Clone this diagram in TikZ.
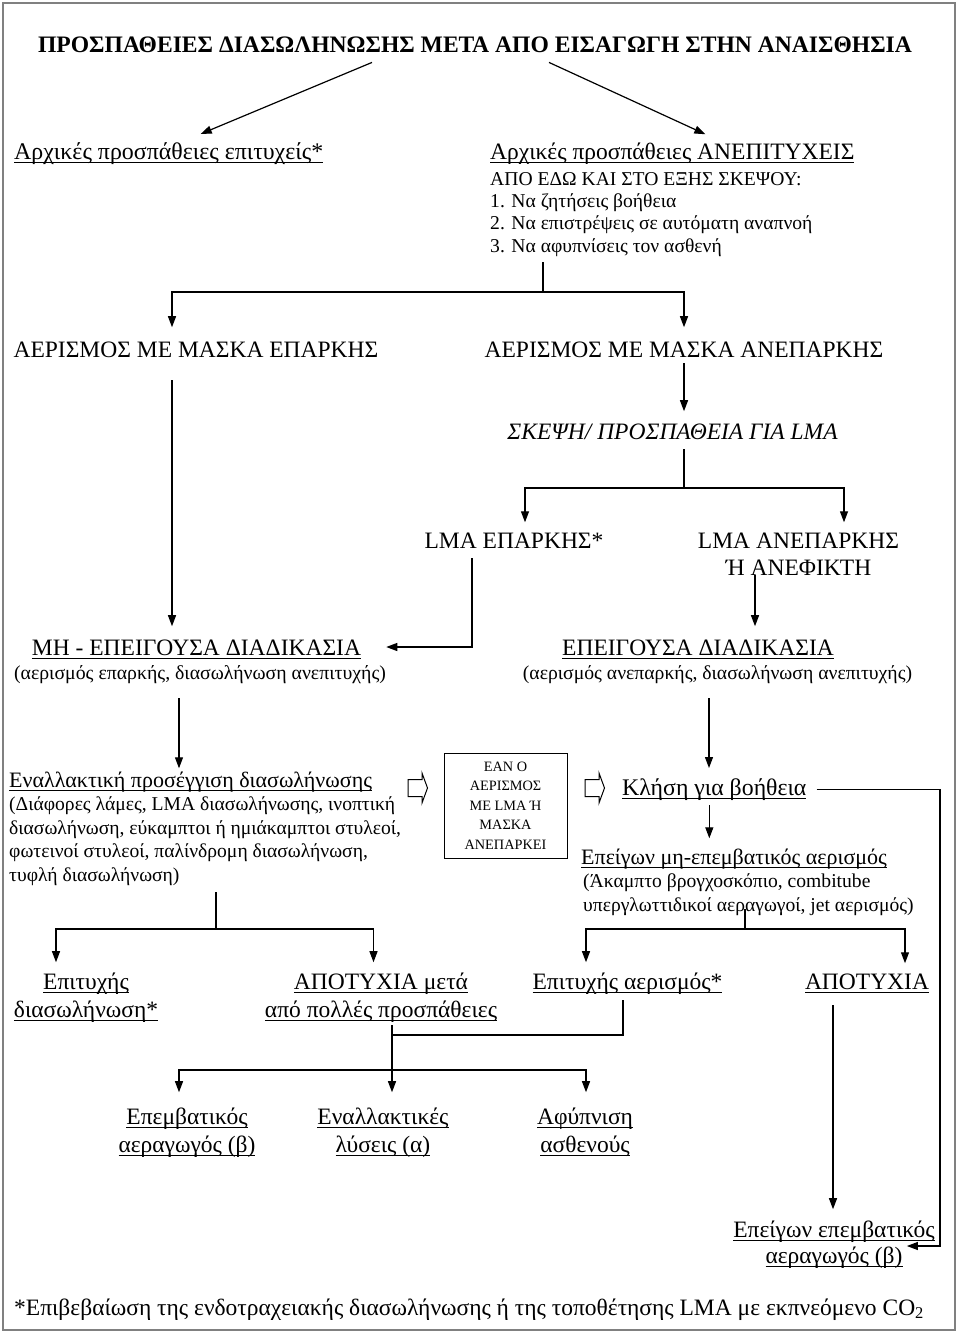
\documentclass[tikz,border=0pt]{standalone}
\usepackage{fontspec}
\setmainfont{Liberation Serif}
\usetikzlibrary{arrows.meta, positioning}

% underline at a fixed depth, crossing the descenders
\newcommand{\wul}[1]{\leavevmode\setbox0=\hbox{#1}\rlap{\rule[-0.18em]{\wd0}{0.055em}}\box0}

\begin{document}
\begin{tikzpicture}[x=1pt, y=-1pt, >={Triangle[length=11pt,width=8pt]},
    txt/.style={inner sep=0pt, anchor=base},
    big/.style={txt, font=\fontsize{23.5}{28}\selectfont},
    mid/.style={txt, font=\fontsize{19.6}{23.5}\selectfont},
    tiny/.style={txt, font=\fontsize{14.3}{19.5}\selectfont},
    wire/.style={line width=1.2pt},
    flow/.style={wire, ->},
    hollow/.style={line width=1pt}]

    \useasboundingbox (0,0) rectangle (960,1333);
    \draw[gray, line width=2pt] (3,3) rectangle (955,1330);

    % Title and first split
    \node[txt, font=\bfseries\fontsize{23.6}{26}\selectfont] (title) at (475,52)
        {ΠΡΟΣΠΑΘΕΙΕΣ ΔΙΑΣΩΛΗΝΩΣΗΣ ΜΕΤΑ ΑΠΟ ΕΙΣΑΓΩΓΗ ΣΤΗΝ ΑΝΑΙΣΘΗΣΙΑ};
    \node[big, anchor=base west, font=\fontsize{23.9}{28}\selectfont] (ok1) at (14,159) {\wul{Αρχικές προσπάθειες επιτυχείς*}};
    \node[big, anchor=base west] (fail1) at (490,159) {\wul{Αρχικές προσπάθειες ΑΝΕΠΙΤΥΧΕΙΣ}};
    \node[txt, anchor=base west, align=left, font=\fontsize{19.6}{22.3}\selectfont] (todo) at (490,252)
        {ΑΠΟ ΕΔΩ ΚΑΙ ΣΤΟ ΕΞΗΣ ΣΚΕΨΟΥ:\\1. Να ζητήσεις βοήθεια\\2. Να επιστρέψεις σε αυτόματη αναπνοή\\3. Να αφυπνίσεις τον ασθενή};
    \draw[flow] ([xshift=-103pt,yshift=-10pt]title.south) -- ([xshift=32pt,yshift=8pt]ok1.north);
    \draw[flow] ([xshift=74pt,yshift=-10pt]title.south) -- ([xshift=33pt,yshift=8pt]fail1.north);

    % Mask ventilation
    \node[big] (am1) at (196,357) {ΑΕΡΙΣΜΟΣ ΜΕ ΜΑΣΚΑ ΕΠΑΡΚΗΣ};
    \node[big] (am2) at (684,357) {ΑΕΡΙΣΜΟΣ ΜΕ ΜΑΣΚΑ ΑΝΕΠΑΡΚΗΣ};
    \coordinate (j1) at (543,292);
    \draw[wire, shorten <=6pt] (todo.south -| j1) -- (j1);
    \draw[flow, shorten >=14pt] (j1) -| ([xshift=-24pt]am1.north);
    \draw[flow, shorten >=14pt] (j1) -| (am2.north);

    % LMA
    \node[big, font=\itshape\fontsize{23.5}{28}\selectfont] (think) at (672.5,439) {ΣΚΕΨΗ/ ΠΡΟΣΠΑΘΕΙΑ ΓΙΑ LMA};
    \draw[flow, shorten <=6pt, shorten >=12pt] (am2.south) -- (am2.south |- think.north);
    \node[big] (lma1) at (514,548) {LMA ΕΠΑΡΚΗΣ*};
    \node[big, align=center, font=\fontsize{23.5}{27}\selectfont] (lma2) at (798.5,575) {LMA ΑΝΕΠΑΡΚΗΣ\\Ή ΑΝΕΦΙΚΤΗ};
    \coordinate (j2) at (684,488);
    \draw[wire, shorten <=10pt] (think.south -| j2) -- (j2);
    \draw[flow, shorten >=10pt] (j2) -| ([xshift=11pt]lma1.north);
    \draw[flow, shorten >=10pt] (j2) -| ([xshift=45.5pt]lma2.north);

    % Non-urgent and urgent pathways
    \node[big] (mh) at (196.5,655) {\wul{ΜΗ - ΕΠΕΙΓΟΥΣΑ ΔΙΑΔΙΚΑΣΙΑ}};
    \node[mid, font=\fontsize{19.8}{23.5}\selectfont] (par1) at (200,679) {(αερισμός επαρκής, διασωλήνωση ανεπιτυχής)};
    \node[big] (ep) at (698,655) {\wul{ΕΠΕΙΓΟΥΣΑ ΔΙΑΔΙΚΑΣΙΑ}};
    \node[mid, font=\fontsize{19.7}{23.5}\selectfont] (par2) at (717.5,679) {(αερισμός ανεπαρκής, διασωλήνωση ανεπιτυχής)};
    \coordinate (j3) at (472,647);
    \draw[flow, shorten <=10pt, shorten >=25pt] (lma1.south -| j3) -- (j3) -- (mh.east |- j3);
    \draw[flow, shorten <=23pt, shorten >=13pt] ([xshift=-24pt]am1.south) -- ([xshift=-24pt]am1.south |- mh.north);
    \draw[flow, shorten >=13pt] ([xshift=-43.5pt]lma2.south) -- ([xshift=-43.5pt]lma2.south |- ep.north);

    % Alternative intubation
    \node[txt, anchor=base west, font=\fontsize{22}{23.5}\selectfont] (altH) at (9,787)
        {\wul{Εναλλακτική προσέγγιση διασωλήνωσης}};
    \node[mid, anchor=base west, align=left] (altB) at (9,881)
        {(Διάφορες λάμες, LMA διασωλήνωσης, ινοπτική\\διασωλήνωση, εύκαμπτοι ή ημιάκαμπτοι στυλεοί,\\φωτεινοί στυλεοί, παλίνδρομη διασωλήνωση,\\τυφλή διασωλήνωση)};
    \draw[flow, shorten <=15pt, shorten >=3pt] ([xshift=-21pt]par1.south) -- ([xshift=-21pt]par1.south |- altH.north);

    % Condition box
    \draw[hollow, shift={(408,788)}] (0,-8.5) -- (14,-8.5) -- (14,-15) -- (19.5,0) -- (14,15) -- (14,8.5) -- (0,8.5) -- cycle;
    \node[tiny, anchor=center, draw, line width=1pt, minimum width=123pt, minimum height=105pt, align=center] (cond) at (505.5,805.5)
        {ΕΑΝ Ο\\ΑΕΡΙΣΜΟΣ\\ΜΕ LMA Ή\\ΜΑΣΚΑ\\ΑΝΕΠΑΡΚΕΙ};
    \draw[hollow, shift={(585,788)}] (0,-8.5) -- (14,-8.5) -- (14,-15) -- (19.5,0) -- (14,15) -- (14,8.5) -- (0,8.5) -- cycle;

    % Call for help
    \node[txt, anchor=base west, font=\fontsize{23.8}{28}\selectfont] (kl) at (622,795) {\wul{Κλήση για βοήθεια}};
    \draw[flow, shorten <=15pt, shorten >=10pt] ([xshift=-8.5pt]par2.south) -- ([xshift=-8.5pt]par2.south |- kl.north);
    \node[txt, anchor=base west, font=\fontsize{22}{23.5}\selectfont] (nivH) at (581,864) {\wul{Επείγων μη-επεμβατικός αερισμός}};
    \node[mid, anchor=base west, align=left] (nivB) at (583,911)
        {(Άκαμπτο βρογχοσκόπιο, combitube\\υπεργλωττιδικοί αεραγωγοί, jet αερισμός)};
    \draw[flow, shorten <=5pt, shorten >=10pt] ([xshift=-5pt]kl.south) -- ([xshift=-5pt]kl.south |- nivH.north);

    % Outcomes
    \node[big, align=center] (succ1) at (86,1017) {\wul{Επιτυχής}\\\wul{διασωλήνωση*}};
    \node[big, align=center] (fail2) at (381,1017) {\wul{ΑΠΟΤΥΧΙΑ μετά}\\\wul{από πολλές προσπάθειες}};
    \node[big] (succ2) at (627.5,989) {\wul{Επιτυχής αερισμός*}};
    \node[big] (fail3) at (867,989) {\wul{ΑΠΟΤΥΧΙΑ}};
    \coordinate (j7) at (216,929);
    \draw[wire, shorten <=7pt] (altB.south -| j7) -- (j7);
    \draw[flow, shorten >=10pt] (j7) -| ([xshift=-30pt]succ1.north);
    \draw[flow, shorten >=10pt] (j7) -| ([xshift=-7.5pt]fail2.north);
    \coordinate (j6) at (745,929);
    \draw[wire, shorten <=-6pt] (nivB.south -| j6) -- (j6);
    \draw[flow, shorten >=10pt] (j6) -| ([xshift=-41.5pt]succ2.north);
    \draw[flow, shorten >=10pt] (j6) -| ([xshift=38pt]fail3.north);

    % Next steps
    \node[big, align=center] (inv) at (187,1152) {\wul{Επεμβατικός}\\\wul{αεραγωγός (β)}};
    \node[big, align=center] (alts) at (383,1152) {\wul{Εναλλακτικές}\\\wul{λύσεις (α)}};
    \node[big, align=center] (wake) at (585,1152) {\wul{Αφύπνιση}\\\wul{ασθενούς}};
    \coordinate (j8) at (392,1070);
    \coordinate (j9) at (392,1035);
    \draw[flow, shorten <=3pt, shorten >=15pt] ([xshift=11pt]fail2.south) -- ([xshift=11pt]fail2.south |- alts.north);
    \draw[flow, shorten >=15pt] (j8) -| ([xshift=-8pt]inv.north);
    \draw[flow, shorten >=15pt] (j8) -| ([xshift=1pt]wake.north);
    \draw[wire, shorten <=6pt] ([xshift=-4.5pt]succ2.south) |- (j9);

    % Emergency invasive airway
    \node[big, align=center, font=\fontsize{23.5}{26}\selectfont] (ee) at (834,1263) {\wul{Επείγων επεμβατικός}\\\wul{αεραγωγός (β)}};
    \draw[flow, shorten <=12pt, shorten >=11pt] ([xshift=-34pt]fail3.south) -- ([xshift=-34pt]fail3.south |- ee.north);
    \coordinate (j5) at (940,1246);
    \draw[flow, shorten <=10pt] (kl.east) -| (j5) -- ([xshift=-28pt]ee.east |- j5);

    % Footnote
    \node[big, anchor=base west, font=\fontsize{23.5}{24}\selectfont] (note) at (14,1315)
        {*Επιβεβαίωση της ενδοτραχειακής διασωλήνωσης ή της τοποθέτησης LMA με εκπνεόμενο CO\textsubscript{2}};
\end{tikzpicture}
\end{document}
